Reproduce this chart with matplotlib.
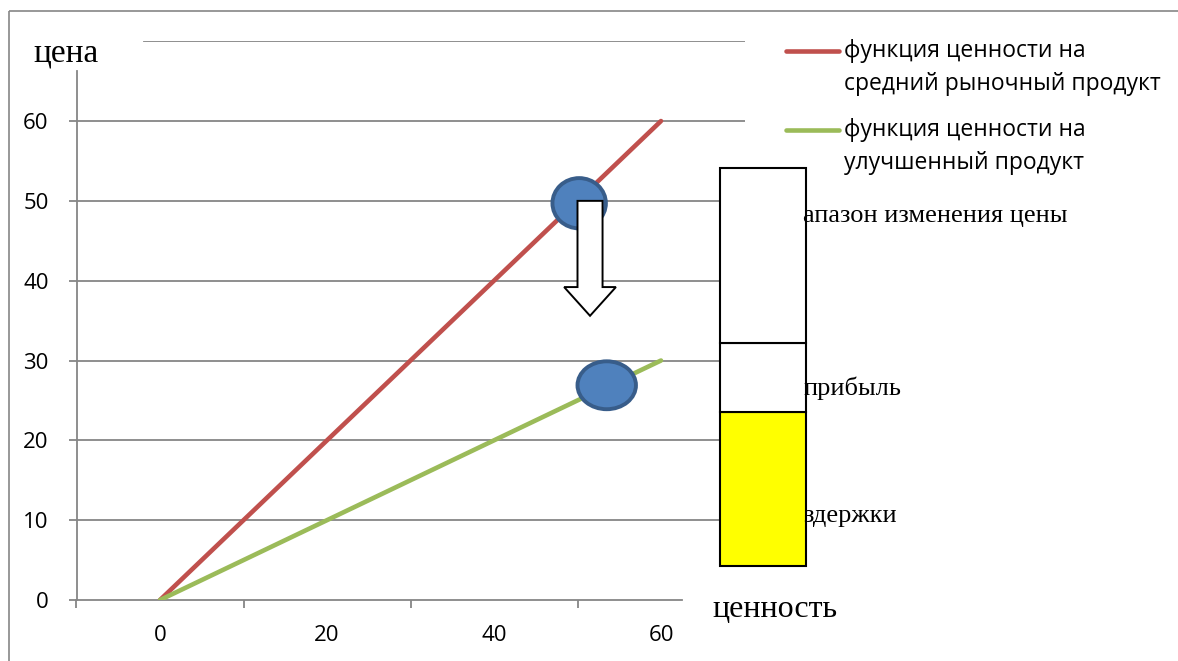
import matplotlib
matplotlib.use("Agg")
import matplotlib.pyplot as plt
from matplotlib.patches import Ellipse
from matplotlib.lines import Line2D
from matplotlib.legend_handler import HandlerLine2D

# data
x_vals = [0, 20, 40, 60]
market_vals = [0, 20, 40, 60]
improved_vals = [0, 10, 20, 30]
series_names = ["функция ценности на\nсредний рыночный продукт",
                "функция ценности на\nулучшенный продукт"]
y_ticks = [0, 10, 20, 30, 40, 50, 60]
x_labels = [0, 20, 40, 60]

# stacked price bar (bottom, top) in price units
bar_segments = [(4.3, 23.6), (23.6, 32.2), (32.2, 54.1)]
bar_names = ["здержки", "прибыль", "апазон изменения цены"]
bar_colors = ["#ffff00", "white", "white"]

W, H = 1178, 661
fig = plt.figure(figsize=(W / 100, H / 100), dpi=100)
ax = fig.add_axes([76.5 / W, (H - 600) / H, 668 / W, (600 - 41.2) / H])
ax.set_xlim(-10, 70)
ax.set_ylim(0, 70)

sans = ["Open Sans", "DejaVu Sans"]
serif = ["Liberation Serif", "DejaVu Serif"]
grey = "#868686"
fs = 16.5

# grid lines
for y in y_ticks[1:]:
    ax.axhline(y, color=grey, lw=1.3, zorder=1)
ax.axhline(70, xmin=(144 - 76.5) / 668, color=grey, lw=1.3, zorder=1)

for s in ["top", "right"]:
    ax.spines[s].set_visible(False)
ax.spines["left"].set_color(grey)
ax.spines["bottom"].set_color(grey)
ax.spines["left"].set_linewidth(1.3)
ax.spines["bottom"].set_linewidth(1.3)
ax.spines["left"].set_bounds(0, 66.3)
ax.spines["bottom"].set_bounds(-10, 62.5)

ax.set_yticks(y_ticks)
ax.set_yticklabels([str(v) for v in y_ticks], family=sans, fontsize=16)
ax.tick_params(axis="y", length=6, width=1.3, color=grey, pad=14)
ax.set_xticks([-10, 10, 30, 50])
ax.set_xticklabels([])
ax.set_xticks(x_labels, minor=True)
ax.set_xticklabels([str(v) for v in x_labels], minor=True, family=sans, fontsize=16)
ax.tick_params(axis="x", which="major", length=6, width=1.3, color=grey)
ax.tick_params(axis="x", which="minor", length=0, pad=18)

l1, = ax.plot(x_vals, market_vals, color="#c0504d", lw=3.3, solid_capstyle="round", zorder=3)
l2, = ax.plot(x_vals, improved_vals, color="#9bbb59", lw=3.3, solid_capstyle="round", zorder=3)

# price points
ax.add_patch(Ellipse((50.2, 49.7), 6.4, 6.3, fc="#4f81bd", ec="#385d8a", lw=2.8, zorder=4))
ax.add_patch(Ellipse((53.5, 26.9), 7.0, 6.0, fc="#4f81bd", ec="#385d8a", lw=2.8, zorder=4))
ax.arrow(51.5, 50.0, 0, -14.4, width=3.0, head_width=6.2, head_length=3.6,
         length_includes_head=True, fc="white", ec="black", lw=1.4, zorder=5)

# stacked bar beside the plot
for (b, t), c in zip(bar_segments, bar_colors):
    ax.bar(72.25, t - b, bottom=b, width=10.3, color=c, edgecolor="black",
           lw=1.5, clip_on=False, zorder=5)


class FirstLineHandler(HandlerLine2D):
    def create_artists(self, legend, orig_handle, xdescent, ydescent, width,
                       height, fontsize, trans):
        arts = super().create_artists(legend, orig_handle, xdescent, ydescent,
                                      width, height, fontsize, trans)
        for a in arts:
            a.set_ydata([v + fontsize * 0.75 for v in a.get_ydata()])
        return arts


leg = fig.legend([l1, l2], series_names, loc="upper left",
                 bbox_to_anchor=(786 / W, 1 - 39 / H), frameon=False,
                 prop={"family": sans, "size": fs}, borderpad=0, borderaxespad=0,
                 handlelength=2.33, handletextpad=0.2, labelspacing=0.95,
                 handler_map={Line2D: FirstLineHandler()})
for t in leg.get_texts():
    t.set_linespacing(1.5)

# axis titles
fig.text(33 / W, 1 - 61 / H, "цена", family=serif, fontsize=24, va="baseline")
fig.text(712 / W, 1 - 617 / H, "ценность", family=serif, fontsize=23, va="baseline")

# labels by the bar
label_base = [522, 395, 222]
for name, yb in zip(bar_names, label_base):
    fig.text(803 / W, 1 - yb / H, name, family=serif, fontsize=19, va="baseline")

# frame
fig.add_artist(Line2D([9 / W, 9 / W], [0, 1 - 11 / H], transform=fig.transFigure,
                      color=grey, lw=1.2, solid_capstyle="butt"))
fig.add_artist(Line2D([9 / W, 1], [1 - 11 / H, 1 - 11 / H], transform=fig.transFigure,
                      color=grey, lw=1.2, solid_capstyle="butt"))

fig.savefig("out.png", dpi=100)
